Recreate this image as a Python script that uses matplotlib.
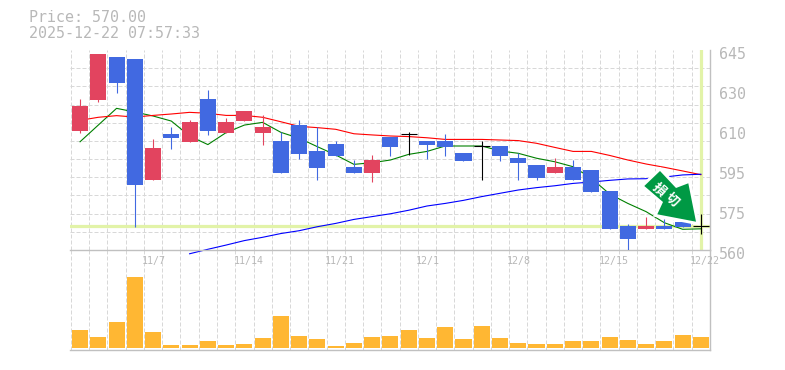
import matplotlib
matplotlib.use("Agg")
import matplotlib.pyplot as plt
from matplotlib.patches import Polygon
from matplotlib.transforms import ScaledTranslation

W, H = 785, 370

# daily prices
opens = [610.6, 623.75, 642.0, 641.2, 589.8, 609.3, 605.9, 624.2, 609.7, 614.8, 609.7, 606.3,
         613.1, 602.1, 605.05, 595.3, 592.7, 608.0, 609.15, 606.3, 606.3, 601.2, 604.2, 604.2,
         599.1, 596.1, 592.7, 595.3, 594.0, 585.1, 570.2, 568.9, 570.2, 571.9, 570.2]
closes = [621.2, 643.3, 631.0, 587.6, 603.3, 607.6, 614.4, 610.6, 614.4, 619.1, 612.3, 592.7,
          600.8, 594.85, 599.95, 592.7, 598.25, 603.8, 609.15, 604.6, 603.8, 597.8, 604.2, 599.95,
          597.0, 590.6, 595.3, 589.75, 584.65, 568.9, 564.7, 570.2, 568.9, 569.8, 570.2]
highs = [624.2, 643.3, 642.0, 641.2, 607.2, 612.3, 615.3, 628.0, 616.1, 619.1, 617.4, 610.2,
         615.25, 612.3, 606.3, 598.25, 600.4, 608.0, 610.15, 606.3, 609.3, 601.2, 606.3, 604.2,
         601.2, 596.1, 599.1, 598.25, 594.0, 585.1, 571.05, 574.0, 573.2, 571.9, 575.3]
lows = [609.7, 622.9, 626.7, 569.8, 589.8, 602.9, 605.9, 608.9, 609.7, 614.8, 604.6, 592.7,
        598.7, 589.75, 599.95, 592.7, 588.9, 599.95, 600.4, 598.7, 599.95, 597.8, 589.75, 597.8,
        589.75, 589.75, 592.7, 589.75, 584.65, 568.9, 559.6, 568.9, 568.9, 569.8, 566.8]

ma_short = [606.0, 613.1, 620.2, 618.65, 616.95, 614.8, 608.45, 604.8, 609.9, 613.1, 614.25, 610.0,
            607.5, 603.9, 600.4, 596.4, 597.1, 598.25, 600.65, 601.9, 604.2, 604.2, 604.2, 602.1,
            601.1, 599.0, 597.5, 595.4, 590.5, 583.8, 579.8, 576.3, 571.6, 568.8, 569.0]
ma_mid = [615.1, 616.4, 617.1, 616.5, 617.2, 617.8, 618.5, 618.1, 617.2, 617.2, 616.4, 614.5,
          612.55, 612.0, 611.3, 609.4, 608.9, 608.45, 608.2, 607.7, 607.0, 607.0, 607.0, 606.75,
          606.5, 605.35, 603.6, 601.9, 601.9, 600.2, 598.25, 596.55, 595.15, 593.6, 592.0]
ma_long = [558.4, 560.3, 562.1, 564.0, 565.4, 567.0, 568.2, 569.9, 571.3, 573.0, 574.2, 575.4,
           576.9, 578.7, 579.8, 581.1, 582.7, 584.1, 585.5, 586.5, 587.3, 588.3, 588.9, 589.6,
           590.2, 590.3, 591.0, 591.9, 592.2]
volume = [54, 33, 78, 213, 48, 9, 9, 21, 9, 12, 30, 96, 36, 27, 6, 15, 33, 36,
          54, 30, 63, 27, 66, 30, 15, 12, 12, 21, 21, 33, 24, 12, 21, 39, 33]

date_pos = [4, 9, 14, 19, 24, 29, 34]
date_labels = ["11/7", "11/14", "11/21", "12/1", "12/8", "12/15", "12/22"]
price_ticks = [645, 628, 611, 594, 577, 560]
price_labels = ["645", "630", "610", "595", "575", "560"]
last_price = 570

RED = "#e2445f"
BLUE = "#4169e1"
GRAY = "#b8b8b8"
GRID = "#d8d8d8"
PALE = "#e2f3a8"
FONT = "DejaVu Sans Mono"
PX = 72 / 100


def box(top, bottom):
    return [70 / W, 1 - bottom / H, 640 / W, (bottom - top) / H]


def style(ax):
    ax.set_xlim(-0.55, 34.45)
    ax.set_xticks([i - 0.5 for i in range(36)], minor=True)
    ax.tick_params(which="both", length=0)
    ax.grid(which="minor", axis="x", color=GRID, lw=PX, ls=(0, (4, 2)))
    ax.set_axisbelow(True)
    ax.patch.set_visible(False)
    for side in ["left", "top"]:
        ax.spines[side].set_visible(False)
    for side in ["right", "bottom"]:
        ax.spines[side].set_color("#c0c0c0")
        ax.spines[side].set_linewidth(1.4 * PX)


fig = plt.figure(figsize=(W / 100, H / 100), dpi=100)
vol = fig.add_axes(box(250, 350))
ax = fig.add_axes(box(50, 250))
style(ax)
style(vol)

# price panel
ax.set_ylim(560, 645)
ax.set_yticks([560 + 85 / 11 * i for i in range(12)], minor=True)
ax.grid(which="minor", axis="y", color=GRID, lw=PX, ls=(0, (4, 2)))
ax.yaxis.tick_right()
ax.set_yticks(price_ticks)
ax.set_yticklabels(price_labels, family=FONT, fontsize=10.8, color=GRAY)
ax.tick_params(axis="y", which="major", pad=6.5)
ax.set_xticks(date_pos)
ax.set_xticklabels(date_labels, family=FONT, fontsize=7.2, color=GRAY, ha="left")
ax.tick_params(axis="x", which="major", pad=4)
down = ScaledTranslation(0, -3 / 100, fig.dpi_scale_trans)
for label in ax.get_yticklabels():
    label.set_transform(label.get_transform() + down)
left = ScaledTranslation(-11 / 100, 0, fig.dpi_scale_trans)
for label in ax.get_xticklabels():
    label.set_transform(label.get_transform() + left)

ax.axhline(last_price, color=PALE, lw=3.2 * PX, zorder=1.5)
ax.axvline(34, color=PALE, lw=3.2 * PX, zorder=1.5)

days = list(range(len(opens)))
ax.plot(days, ma_short, color="#008000", lw=0.8, zorder=2)
ax.plot(days, ma_mid, color="#ff0000", lw=0.8, zorder=2)
ax.plot(days[6:], ma_long, color="#0000ff", lw=0.8, zorder=2, clip_on=False)

for i in days:
    o, c = opens[i], closes[i]
    color = "black" if o == c else (RED if c > o else BLUE)
    ax.vlines(i, lows[i], highs[i], color=color, lw=PX * 1.1, zorder=3, snap=True)
    if o == c:
        ax.hlines(o, i - 0.44, i + 0.44, color=color, lw=PX * 1.1, zorder=3, snap=True)
    else:
        ax.bar(i, abs(c - o), bottom=min(o, c), width=0.88, color=color, zorder=3)

# volume panel
vol.set_ylim(-6, 294)
vol.set_yticks([])
vol.set_xticks([])
vol.bar(days, volume, width=0.88, color="#ffb733", zorder=3)

# stop-loss arrow, given in pixels of the image; white rim cuts the lines behind it
arrow_px = [(660, 171), (676, 188), (688.3, 183.3), (696, 221.7), (657.3, 214.3), (663, 202), (644.3, 186)]
arrow_xy = [(x / W, 1 - y / H) for x, y in arrow_px]
fig.add_artist(Polygon(arrow_xy, closed=True, transform=fig.transFigure, facecolor="white",
                       edgecolor="white", lw=6 * PX, joinstyle="miter", zorder=4))
fig.add_artist(Polygon(arrow_xy, closed=True, transform=fig.transFigure, facecolor="#009944",
                       edgecolor="none", zorder=5))
for ch, x, y in [("損", 659, 189.3), ("切", 671.7, 199.3)]:
    fig.text(x / W, 1 - y / H, ch, family="Noto Sans CJK JP", fontsize=9.5, fontweight="bold",
             color="white", rotation=-42, ha="center", va="center", zorder=6)

fig.text(29 / W, 1 - 18 / H, "Price: 570.00", family=FONT, fontsize=10.8, color=GRAY, va="center")
fig.text(29 / W, 1 - 33 / H, "2025-12-22 07:57:33", family=FONT, fontsize=10.8, color=GRAY, va="center")

fig.savefig("out.png", dpi=100)
